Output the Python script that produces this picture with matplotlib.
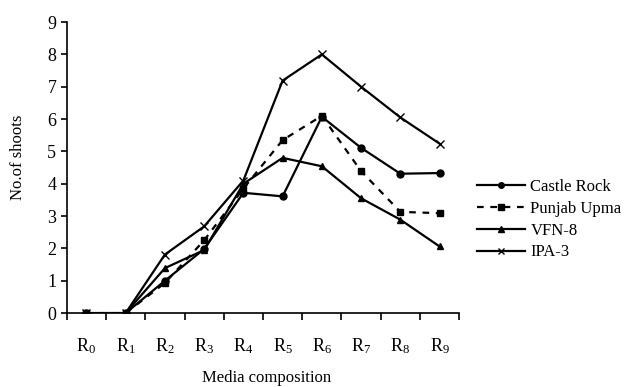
import matplotlib.pyplot as plt
import numpy as np

plt.rcParams['font.family'] = ['Liberation Serif', 'DejaVu Serif']
plt.rcParams['mathtext.fontset'] = 'custom'
plt.rcParams['mathtext.rm'] = 'Liberation Serif'
plt.rcParams['mathtext.it'] = 'Liberation Serif:italic'

# media compositions R0..R9
media = [r"$\mathrm{R}_{%d}$" % i for i in range(10)]

castle_rock = [0, 0, 1.0, 1.98, 3.72, 3.61, 6.07, 5.11, 4.31, 4.33]
punjab_upma = [0, 0, 0.93, 2.25, 3.85, 5.35, 6.1, 4.39, 3.13, 3.09]
vfn_8 = [0, 0, 1.39, 1.95, 4.0, 4.8, 4.54, 3.55, 2.89, 2.06]
ipa_3 = [0, 0, 1.81, 2.68, 4.1, 7.19, 8.0, 7.0, 6.05, 5.24]

fig = plt.figure(figsize=(6.36, 3.87), dpi=100)
ax = fig.add_axes([0.105, 0.191, 0.617, 0.752])

x = np.arange(len(media))
ax.plot(x, castle_rock, color='black', lw=1.6, marker='o', ms=5, label='Castle Rock')
ax.plot(x, punjab_upma, color='black', lw=1.6, ls=(0, (3, 3)), marker='s', ms=5, label='Punjab Upma')
ax.plot(x, vfn_8, color='black', lw=1.6, marker='^', ms=5, label='VFN-8')
ax.plot(x, ipa_3, color='black', lw=1.6, marker='x', ms=6, mew=1, label='IPA-3')

ax.set_xlim(-0.5, 9.5)
ax.set_ylim(0, 9)
ax.set_yticks(range(10))
ax.set_xticks(x)
ax.set_xticklabels(media)
ax.set_xticks(np.arange(-0.5, 10, 1), minor=True)
ax.tick_params(axis='x', which='major', length=0, pad=17, labelsize=13)
ax.tick_params(axis='x', which='minor', length=5, width=1.2, direction='out')
ax.tick_params(axis='y', length=4, width=1.2, labelsize=13)

for s in ['top', 'right']:
    ax.spines[s].set_visible(False)
ax.spines['left'].set_linewidth(1.2)
ax.spines['bottom'].set_linewidth(1.2)

ax.set_xlabel('Media composition', fontsize=12)
ax.xaxis.set_label_coords(0.51, -0.196)
ax.set_ylabel('No.of shoots', fontsize=12)
ax.yaxis.set_label_coords(-0.105, 0.536)

leg = ax.legend(loc='upper left', bbox_to_anchor=(477 / 636, 1 - 179 / 387),
                bbox_transform=fig.transFigure, frameon=False, fontsize=12,
                handlelength=2.9, handletextpad=0.3, labelspacing=0.35,
                borderaxespad=0, borderpad=0, markerscale=0.8)

fig.savefig('out.png', dpi=100)
